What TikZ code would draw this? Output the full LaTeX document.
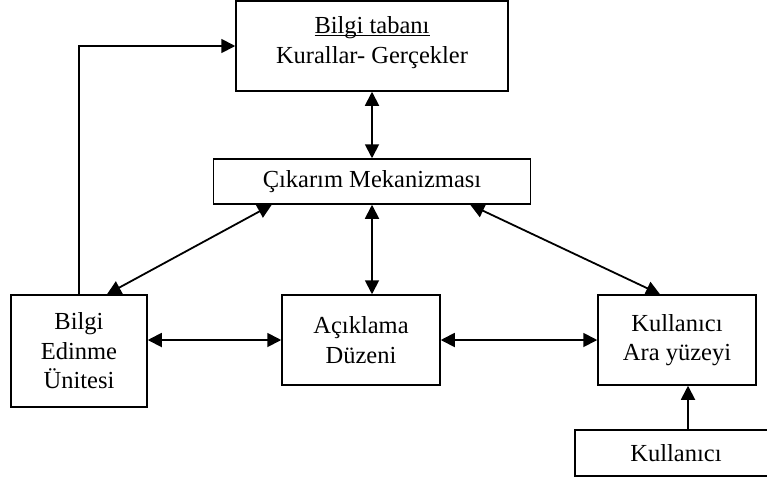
\documentclass[tikz,border=0pt]{standalone}
\usepackage{fontspec}
\setmainfont{Liberation Serif}
\usetikzlibrary{arrows.meta,calc}
\tikzset{
  box/.style={draw, line width=1.5pt, inner sep=0pt, align=center,
    font=\fontsize{24.5}{29.5}\selectfont},
  txt/.style={inner sep=0pt, align=center, font=\fontsize{24.5}{29.5}\selectfont},
  conn/.style={line width=1.8pt, -{Triangle[length=14pt,width=14pt]}},
  bconn/.style={line width=1.8pt, {Triangle[length=14pt,width=14pt]}-{Triangle[length=14pt,width=14pt]}}
}
\begin{document}
\begin{tikzpicture}[x=1pt,y=-1pt]
\useasboundingbox (0,0) rectangle (767,477);
\clip (0,0) rectangle (767,477);
\node[box, minimum width=272pt, minimum height=90pt] (kb) at (372,46) {};
\node[txt, anchor=north] (kbt) at (372,33.5) {\underline{\smash{Bilgi tabanı}}\\Kurallar- Gerçekler};
\node[box, minimum width=317pt, minimum height=45pt] (inf) at (372,181.5) {Çıkarım Mekanizması};
\node[box, minimum width=136pt, minimum height=112pt] (acq) at (79,351) {Bilgi\\Edinme\\Ünitesi};
\node[box, minimum width=158pt, minimum height=90pt] (exp) at (361,340) {Açıklama\\Düzeni};
\node[box, minimum width=158pt, minimum height=90pt] (ui) at (677,340) {Kullanıcı\\Ara yüzeyi};
\node[box, minimum width=202pt, minimum height=46pt] (user) at (676,453) {Kullanıcı};

\draw[bconn] (kb.south) -- (inf.north);
\draw[bconn] (inf.south) -- (inf.south |- exp.north);
\draw[bconn] ([xshift=59pt]inf.south west) -- ([xshift=28pt]acq.north);
\draw[bconn] ([xshift=-61pt]inf.south east) -- ([xshift=-17pt]ui.north);
\draw[bconn] (acq.east |- exp.west) -- (exp.west);
\draw[bconn] (exp.east) -- (ui.west);
\draw[conn] ([xshift=12pt]user.north) -- ([xshift=12pt]user.north |- ui.south);
\draw[conn] (acq.north) |- (kb.west);
\end{tikzpicture}
\end{document}
